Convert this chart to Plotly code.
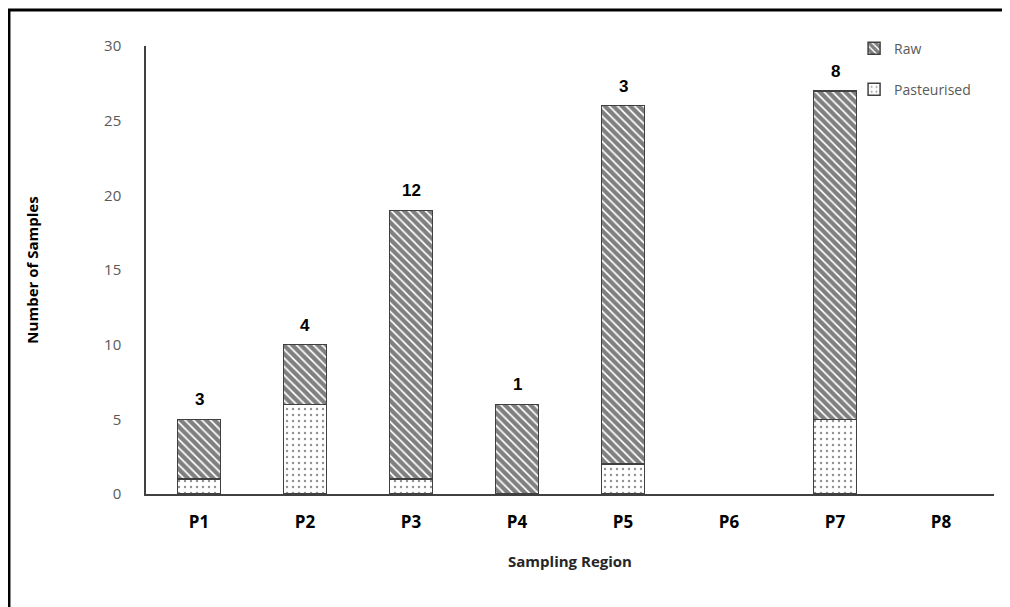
import plotly.graph_objects as go

regions = ["P1", "P2", "P3", "P4", "P5", "P6", "P7", "P8"]
pasteurised = [1, 6, 1, 0, 2, 0, 5, 0]
raw = [4, 4, 18, 6, 24, 0, 22, 0]
top_labels = ["3", "4", "12", "1", "3", "", "8", ""]
totals = [p + r for p, r in zip(pasteurised, raw)]

past_plot = [v if v else None for v in pasteurised]
raw_plot = [v if v else None for v in raw]

fig = go.Figure()
fig.add_trace(go.Bar(
    x=regions, y=past_plot, name="Pasteurised", legendgroup="b", legendrank=2,
    marker=dict(color="white", line=dict(color="#404040", width=1.5),
                pattern=dict(shape=".", fgcolor="#222222", bgcolor="white", size=6, solidity=0.12)),
))
fig.add_trace(go.Bar(
    x=regions, y=raw_plot, name="Raw", legendgroup="a", legendrank=1,
    marker=dict(color="white", line=dict(color="#404040", width=1.5),
                pattern=dict(shape="\\", fgcolor="black", bgcolor="white", size=6, solidity=0.7)),
))

annotations = []
for r, t, lab in zip(regions, totals, top_labels):
    if lab:
        annotations.append(dict(x=r, y=t, xref="x", yref="y", text=lab, showarrow=False,
                                yanchor="bottom", yshift=8,
                                font=dict(family="Liberation Sans", size=17, color="black", weight="bold")))

fig.update_layout(
    width=1002, height=599,
    barmode="stack", bargap=0.59,
    plot_bgcolor="white", paper_bgcolor="white",
    margin=dict(l=138, r=16, t=38, b=113, autoexpand=False),
    showlegend=True,
    legend=dict(x=0.835, y=1.03, xanchor="left", yanchor="top",
                traceorder="grouped", tracegroupgap=20,
                font=dict(family="Open Sans", size=14, color="#595959"),
                itemwidth=30, bgcolor="rgba(0,0,0,0)"),
    annotations=annotations,
    xaxis=dict(showline=True, linecolor="#404040", linewidth=1.5, ticks="", ticklabelstandoff=12,
               tickfont=dict(family="Open Sans", size=17, color="black", weight="bold"),
               title=dict(text="Sampling Region", font=dict(family="Open Sans", size=15, color="#262626", weight="bold"),
                          standoff=24)),
    yaxis=dict(range=[0, 30], dtick=5, showgrid=False, zeroline=False, showline=True,
               linecolor="#404040", linewidth=1.5, ticks="", ticklabelstandoff=20,
               tickfont=dict(family="Open Sans", size=15, color="#595959"),
               title=dict(text="Number of Samples", font=dict(family="Open Sans", size=15, color="black", weight="bold"),
                          standoff=62)),
    shapes=[dict(type="rect", xref="paper", yref="paper", x0=-0.1616, x1=1.1, y0=-0.5, y1=1.0804,
                 line=dict(color="black", width=3), fillcolor="rgba(0,0,0,0)")],
)

fig.write_html("out.html")
